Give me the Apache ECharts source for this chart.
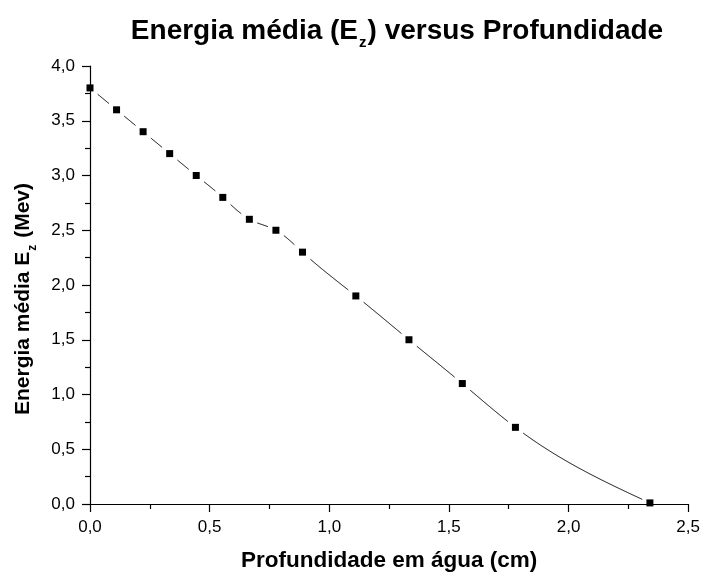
<!DOCTYPE html>
<html>
<head>
<meta charset="utf-8">
<script src="https://cdn.jsdelivr.net/npm/echarts@6/dist/echarts.min.js"></script>
<style>
  html, body { margin: 0; padding: 0; background: #fff; }
  #chart { width: 703px; height: 577px; }
</style>
</head>
<body>
<div id="chart"></div>
<script>
  // profundidade (cm) e energia media (MeV)
  let depth = [0, 0.111, 0.222, 0.333, 0.444, 0.555, 0.666, 0.777, 0.888, 1.111, 1.333, 1.556, 1.778, 2.34];
  let energy = [3.8, 3.6, 3.4, 3.2, 3.0, 2.8, 2.6, 2.5, 2.3, 1.9, 1.5, 1.1, 0.7, 0.01];
  let xTicks = [0, 2.5, 0.5];   // min, max, interval
  let yTicks = [0, 4.0, 0.5];

  let font = "'Liberation Sans', Arial, sans-serif";
  let pts = depth.map(function (d, i) { return [d, energy[i]]; });

  let comma = function (v) { return v.toFixed(1).replace('.', ','); };

  // spline natural (como no Origin)
  function naturalSpline(xs, ys) {
    let n = xs.length, h = [], alpha = [], l = [1], mu = [0], z = [0];
    let b = [], c = [], d = [];
    for (let i = 0; i < n - 1; i++) h[i] = xs[i + 1] - xs[i];
    for (let i = 1; i < n - 1; i++) {
      alpha[i] = 3 / h[i] * (ys[i + 1] - ys[i]) - 3 / h[i - 1] * (ys[i] - ys[i - 1]);
      l[i] = 2 * (xs[i + 1] - xs[i - 1]) - h[i - 1] * mu[i - 1];
      mu[i] = h[i] / l[i];
      z[i] = (alpha[i] - h[i - 1] * z[i - 1]) / l[i];
    }
    c[n - 1] = 0;
    for (let j = n - 2; j >= 0; j--) {
      c[j] = z[j] - mu[j] * c[j + 1];
      b[j] = (ys[j + 1] - ys[j]) / h[j] - h[j] * (c[j + 1] + 2 * c[j]) / 3;
      d[j] = (c[j + 1] - c[j]) / (3 * h[j]);
    }
    return function (x) {
      let j = 0;
      while (j < n - 2 && x > xs[j + 1]) j++;
      let t = x - xs[j];
      return ys[j] + b[j] * t + c[j] * t * t + d[j] * t * t * t;
    };
  }
  let curve = naturalSpline(depth, energy);
  let gap = 7.5; // px livres em volta de cada ponto

  let chart = echarts.init(document.getElementById('chart'));
  let option = {
    animation: false,
    title: {
      text: '{t|Energia média (E}{s|z}{t|) versus Profundidade}',
      left: 392,
      top: 10,
      textAlign: 'center',
      textStyle: {
        rich: {
          t: {fontSize: 28, fontWeight: 'bold', fontFamily: font, color: '#000', lineHeight: 32},
          s: {fontSize: 15, fontWeight: 'bold', fontFamily: font, color: '#000', lineHeight: 15,
              verticalAlign: 'top', padding: [20, 1, 0, 1]}
        }
      }
    },
    grid: {left: 90, right: 13, top: 66, bottom: 71},
    xAxis: {
      type: 'value',
      min: xTicks[0], max: xTicks[1], interval: xTicks[2],
      name: 'Profundidade em água (cm)',
      nameLocation: 'middle',
      nameGap: 45,
      nameTextStyle: {fontSize: 22.5, fontWeight: 'bold', fontFamily: font, color: '#000'},
      axisLine: {lineStyle: {color: '#000', width: 1.2}},
      axisTick: {length: 8, lineStyle: {color: '#000', width: 1.2}},
      minorTick: {show: true, splitNumber: 2, length: 5, lineStyle: {color: '#000', width: 1.2}},
      axisLabel: {fontSize: 17, fontFamily: font, color: '#000', margin: 15, formatter: comma},
      splitLine: {show: false},
      z: 5
    },
    yAxis: {
      type: 'value',
      min: yTicks[0], max: yTicks[1], interval: yTicks[2],
      name: '{t|Energia média E}{s|z}{t| (Mev)}',
      nameLocation: 'middle',
      nameGap: 55,
      nameTextStyle: {
        padding: [0, 28, 0, 0],
        rich: {
          t: {fontSize: 21, fontWeight: 'bold', fontFamily: font, color: '#000', lineHeight: 24},
          s: {fontSize: 12, fontWeight: 'bold', fontFamily: font, color: '#000', lineHeight: 12,
              verticalAlign: 'top', padding: [16, 1, 0, 1]}
        }
      },
      axisLine: {lineStyle: {color: '#000', width: 1.2}},
      axisTick: {length: 8, lineStyle: {color: '#000', width: 1.2}},
      minorTick: {show: true, splitNumber: 2, length: 5, lineStyle: {color: '#000', width: 1.2}},
      axisLabel: {fontSize: 17, fontFamily: font, color: '#000', margin: 15, formatter: comma},
      splitLine: {show: false},
      z: 5
    },
    series: [
      {
        // curva spline pelos pontos, interrompida perto de cada ponto
        type: 'custom',
        data: pts,
        clip: true,
        silent: true,
        z: 2,
        renderItem: function (params, api) {
          if (params.dataIndex !== 0) return null;
          let marks = pts.map(function (p) { return api.coord(p); });
          let pieces = [], cur = [];
          let x0 = depth[0], x1 = depth[depth.length - 1];
          for (let k = 0; k <= 800; k++) {
            let x = x0 + (x1 - x0) * k / 800;
            let p = api.coord([x, curve(x)]);
            let near = marks.some(function (m) {
              return Math.abs(m[0] - p[0]) < gap && Math.abs(m[1] - p[1]) < gap;
            });
            if (near) {
              if (cur.length > 1) pieces.push(cur);
              cur = [];
            } else {
              cur.push(p);
            }
          }
          if (cur.length > 1) pieces.push(cur);
          return {
            type: 'group',
            children: pieces.map(function (pp) {
              return {
                type: 'polyline',
                shape: {points: pp},
                style: {stroke: '#000', lineWidth: 1, fill: null}
              };
            })
          };
        }
      },
      {
        type: 'scatter',
        data: pts,
        symbol: 'rect',
        symbolSize: 7,
        itemStyle: {color: '#000', opacity: 1},
        z: 6
      }
    ]
  };
  chart.setOption(option);
</script>
</body>
</html>
